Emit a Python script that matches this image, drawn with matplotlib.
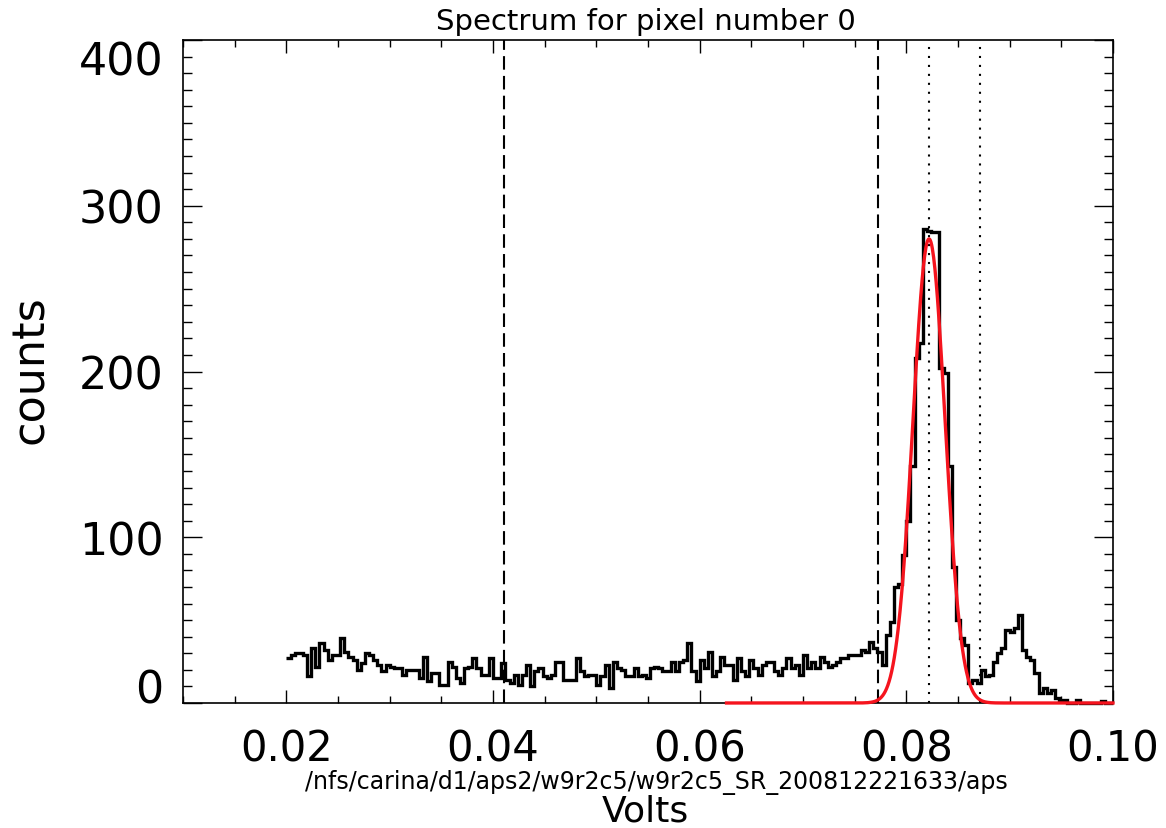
import numpy as np
import matplotlib
matplotlib.use('Agg')
import matplotlib.pyplot as plt
from matplotlib.ticker import MultipleLocator

# spectrum histogram, bins of 0.0004 V starting at 0.02 V
bin_start = 0.02
bin_width = 0.0004
counts = [27, 29, 30, 30, 29, 16, 33, 22, 36, 32, 26, 29, 29, 39, 31, 28, 26, 20, 24, 30,
          29, 26, 23, 19, 23, 22, 21, 21, 17,
          20, 20, 20, 15, 28, 13, 18, 18, 11, 11, 25, 22, 15, 12, 21, 22, 27, 21, 17, 17,
          27, 15, 15, 24, 14, 12, 17, 11,
          17, 23, 10, 19, 21, 16, 15, 17, 25, 25, 14, 14, 14, 27, 19, 16, 17, 17, 11, 16,
          23, 9, 25, 21, 20, 16, 16, 21, 16,
          17, 15, 21, 22, 21, 19, 19, 25, 19, 25, 26, 36, 19, 13, 26, 21, 31, 16, 19, 28,
          23, 23, 14, 27, 19, 16, 26, 21, 17,
          23, 25, 25, 19, 17, 21, 27, 21, 23, 17, 29, 21, 25, 21, 28, 25, 22, 23, 25, 27,
          27, 29, 29, 29, 32, 31, 37, 33, 31,
          23, 41, 49, 70, 72, 89, 110, 143, 208, 217, 286, 285, 284, 284, 202, 199, 143, 82,
          50, 39, 35, 12, 14, 12, 20, 16, 17, 25, 30, 33,
          44, 43, 45, 53, 32, 28, 26, 18, 6, 9, 6, 8, 3, 2, 2, 0, 0, 2, 0, 0,
          0, 0, 0, 1, 0, 0]

# gaussian fit of the main line
fit_amp = 280.0
fit_center = 0.0822
fit_sigma = 0.00156
fit_lo, fit_hi = 0.0626, 0.100

# marker lines
dashed_x = [0.0411, 0.0773]
dotted_x = [0.0822, 0.0871]

xtick_vals = [0.02, 0.04, 0.06, 0.08, 0.10]
xtick_labels = ['0.02', '0.04', '0.06', '0.08', '0.10']
ytick_vals = [0, 100, 200, 300, 400]
ytick_labels = ['0', '100', '200', '300', '400']

title = 'Spectrum for pixel number 0'
path_label = '/nfs/carina/d1/aps2/w9r2c5/w9r2c5_SR_200812221633/aps'

fig = plt.figure(figsize=(11.66, 8.29), dpi=100)
ax = fig.add_axes([0.157, 0.1508, 0.7975, 0.7997])

edges = bin_start + bin_width * np.arange(len(counts) + 1)
ax.stairs(counts, edges, baseline=None, color='black', linewidth=2.4, clip_on=False, zorder=2)

xf = np.linspace(fit_lo, fit_hi, 600)
yf = fit_amp * np.exp(-(xf - fit_center) ** 2 / (2 * fit_sigma ** 2))
ax.plot(xf, yf, color='#f5141e', linewidth=2.4, clip_on=False, zorder=4)

for x in dashed_x:
    ax.axvline(x, color='black', linewidth=1.5, linestyle=(0, (6.5, 3)), zorder=1)
for x in dotted_x:
    ax.axvline(x, color='black', linewidth=1.5, linestyle=(0, (1, 3.3)), zorder=1)

ax.set_xlim(0.01, 0.10)
ax.set_ylim(0, 400)
ax.set_xticks(xtick_vals, xtick_labels)
ax.set_yticks(ytick_vals, ytick_labels)
ax.xaxis.set_minor_locator(MultipleLocator(0.005))
ax.yaxis.set_minor_locator(MultipleLocator(10))

ax.tick_params(axis='x', which='major', direction='in', length=9.4, width=1, top=True, pad=18, labelsize=30)
ax.tick_params(axis='x', which='minor', direction='in', length=4.7, width=1, top=True)
ax.tick_params(axis='y', which='major', direction='in', length=13.5, width=1, right=True, pad=14, labelsize=32)
ax.tick_params(axis='y', which='minor', direction='in', length=6.8, width=1, right=True)
for sp in ax.spines.values():
    sp.set_linewidth(1.2)

# IDL pushes the end labels inside the axis range
yt = ax.yaxis.get_major_ticks()
yt[0].label1.set_verticalalignment('baseline')
yt[-1].label1.set_verticalalignment('top')

fig.text(646 / 1166, 1 - 22 / 829, title, ha='center', va='center', fontsize=21)
fig.text(31 / 1166, 1 - 370 / 829, 'counts', rotation=90, ha='center', va='center', fontsize=32)
fig.text(656 / 1166, 1 - 783 / 829, path_label, ha='center', va='center', fontsize=17)
fig.text(645 / 1166, 0, 'Volts', ha='center', va='bottom', fontsize=26)

fig.savefig('out.png', dpi=100)
